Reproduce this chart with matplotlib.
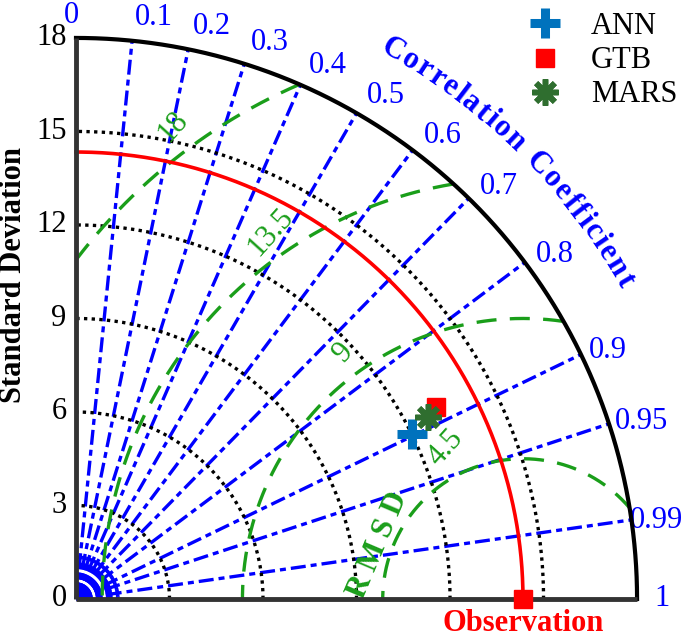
import numpy as np
import matplotlib
matplotlib.use("Agg")
import matplotlib.pyplot as plt

plt.rcParams['font.family'] = ['Liberation Serif', 'DejaVu Serif']

# ---------------- data ----------------
models = ["ANN", "GTB", "MARS"]
model_std = [12.0, 13.1, 12.73]
model_corr = [0.897, 0.882, 0.888]
obs_std = 14.34
std_ticks = [0, 3, 6, 9, 12, 15, 18]
corr_ticks = [0, 0.1, 0.2, 0.3, 0.4, 0.5, 0.6, 0.7, 0.8, 0.9, 0.95, 0.99, 1]
corr_tick_labels = ["0", "0.1", "0.2", "0.3", "0.4", "0.5", "0.6", "0.7", "0.8", "0.9", "0.95", "0.99", "1"]
rmsd_levels = [4.5, 9, 13.5, 18]
rmsd_labels = ["4.5", "9", "13.5", "18"]

# ---------------- styles ----------------
RMAX = 18.0
BLUE = "#0000FF"
GREEN = "#1a9e1a"
FS = 22

W, H = 685, 639
fig = plt.figure(figsize=(W / 100, H / 100), dpi=100)
ax = fig.add_axes([0, 0, 1, 1])
scale = 31.17
x0, y0 = 76, 599
ax.set_xlim(-x0 / scale, (W - x0) / scale)
ax.set_ylim(-(H - y0) / scale, y0 / scale)
ax.axis("off")

th = np.linspace(0, np.pi / 2, 400)

# dense fan near origin (decorative)
for a in np.deg2rad(np.arange(2, 90, 2.5)):
    ax.plot([0, 1.4 * np.cos(a)], [0, 1.4 * np.sin(a)], color=BLUE, lw=1.6,
            ls=(0, (3, 1.5)), zorder=2)

# correlation lines
for c in corr_ticks[1:-1]:
    a = np.arccos(c)
    ax.plot([0, RMAX * np.cos(a)], [0, RMAX * np.sin(a)], color=BLUE, lw=2.4,
            ls=(0, (4.5, 1.5, 1.8, 1.5)), zorder=2)

# std circles
for s in std_ticks[1:-1]:
    ax.plot(s * np.cos(th), s * np.sin(th), color="black", lw=2.4,
            ls=(0, (1, 1.3)), zorder=3)

# RMSD circles
phi = np.linspace(0, np.pi, 1000)
for R in rmsd_levels:
    x = obs_std + R * np.cos(phi)
    y = R * np.sin(phi)
    m = (x ** 2 + y ** 2 <= RMAX ** 2) & (x >= 0)
    ax.plot(x[m], y[m], color=GREEN, lw=2.4, ls=(0, (6, 4)), zorder=3)

# RMSD labels
lab_ang = [117, 126, 124.5, 126.5]
lab_off = [0.95, 0.8, 0.8, 0.85]
for R, lab, ang, off in zip(rmsd_levels, rmsd_labels, lab_ang, lab_off):
    a = np.deg2rad(ang)
    rr = R + off
    ax.text(obs_std + rr * np.cos(a), rr * np.sin(a), lab, color=GREEN,
            fontsize=FS, rotation=48, ha="center", va="center",
            rotation_mode="anchor", zorder=4)
ax.text(9.69, 1.73, "R M S D", color=GREEN, fontsize=FS, fontweight="bold",
        rotation=67, ha="center", va="center", rotation_mode="anchor", zorder=4)

# observation arc
ax.plot(obs_std * np.cos(th), obs_std * np.sin(th), color="red", lw=2.6, zorder=4)

# outer arc and axes
ax.plot(RMAX * np.cos(th), RMAX * np.sin(th), color="black", lw=3, zorder=5)
ax.plot([0, 0], [0, RMAX], color="#333333", lw=3.5, zorder=5, solid_capstyle="butt")
ax.plot([0, RMAX], [0, 0], color="#333333", lw=3.5, zorder=5, solid_capstyle="butt")

# std tick labels
for s in std_ticks:
    ax.text(-0.3, s, str(s), fontsize=FS, ha="right", va="center", color="black")

# correlation tick labels
for c, lab in zip(corr_ticks, corr_tick_labels):
    a = np.arccos(c)
    if c == 0:
        ax.text(-0.15, 18.72, lab, fontsize=FS, color=BLUE, ha="center", va="center")
    elif c == 1:
        ax.text(18.55, 0, lab, fontsize=FS, color=BLUE, ha="left", va="center")
    else:
        r = 17.95 + 0.8 * np.sin(a) - (0.1 if c == 0.99 else 0.0)
        ax.text(r * np.cos(a), r * np.sin(a), lab, fontsize=FS, color=BLUE,
                ha="left", va="center")

# curved "Correlation Coefficient"
title = "Correlation Coefficient"
renderer = fig.canvas.get_renderer()
widths = []
for ch in title:
    t = ax.text(0, 0, ch if ch != " " else "n", fontsize=FS, fontweight="bold")
    bb = t.get_window_extent(renderer)
    widths.append(bb.width * (0.55 if ch == " " else 1.0))
    t.remove()
R_t = 20.35 * scale
start = np.deg2rad(61.0)
pos = 0.0
for ch, w in zip(title, widths):
    ang = start - (pos + w / 2) / R_t
    pos += w + 1.9
    if ch == " ":
        continue
    ax.text(20.35 * np.cos(ang), 20.35 * np.sin(ang), ch, fontsize=FS,
            fontweight="bold", color=BLUE, rotation=np.rad2deg(ang) - 90,
            ha="center", va="center", rotation_mode="anchor")

# models
x = [s * c for s, c in zip(model_std, model_corr)]
y = [s * np.sqrt(1 - c ** 2) for s, c in zip(model_std, model_corr)]
h1, = ax.plot(x[0], y[0], ls="none", marker="+", ms=22, mew=6.5, color="#0072BD", zorder=7, label=models[0])
h2, = ax.plot(x[1], y[1], ls="none", marker="s", ms=12.5, color="red", zorder=6, label=models[1])
h3, = ax.plot(x[2], y[2], ls="none", marker=(8, 2, 0), ms=19, mew=4, color="#2F6E2F", zorder=8, label=models[2])

# observation marker
ax.plot(obs_std, 0, ls="none", marker="s", ms=12.5, color="red", zorder=9, clip_on=False)
ax.text(obs_std, -0.8, "Observation", color="red", fontsize=FS, fontweight="bold",
        ha="center", va="center")

ax.text(-1.99, 10.4, "Standard Deviation", fontsize=FS, fontweight="bold",
        rotation=90, ha="center", va="center")

fig.legend(handles=[h1, h2, h3], loc="upper left", bbox_to_anchor=(530 / W, 1 - 12 / H),
           frameon=False, fontsize=FS, handlelength=1.0, handletextpad=1.0,
           labelspacing=0.17, borderpad=0, borderaxespad=0, numpoints=1)

fig.savefig("out.png", dpi=100)
